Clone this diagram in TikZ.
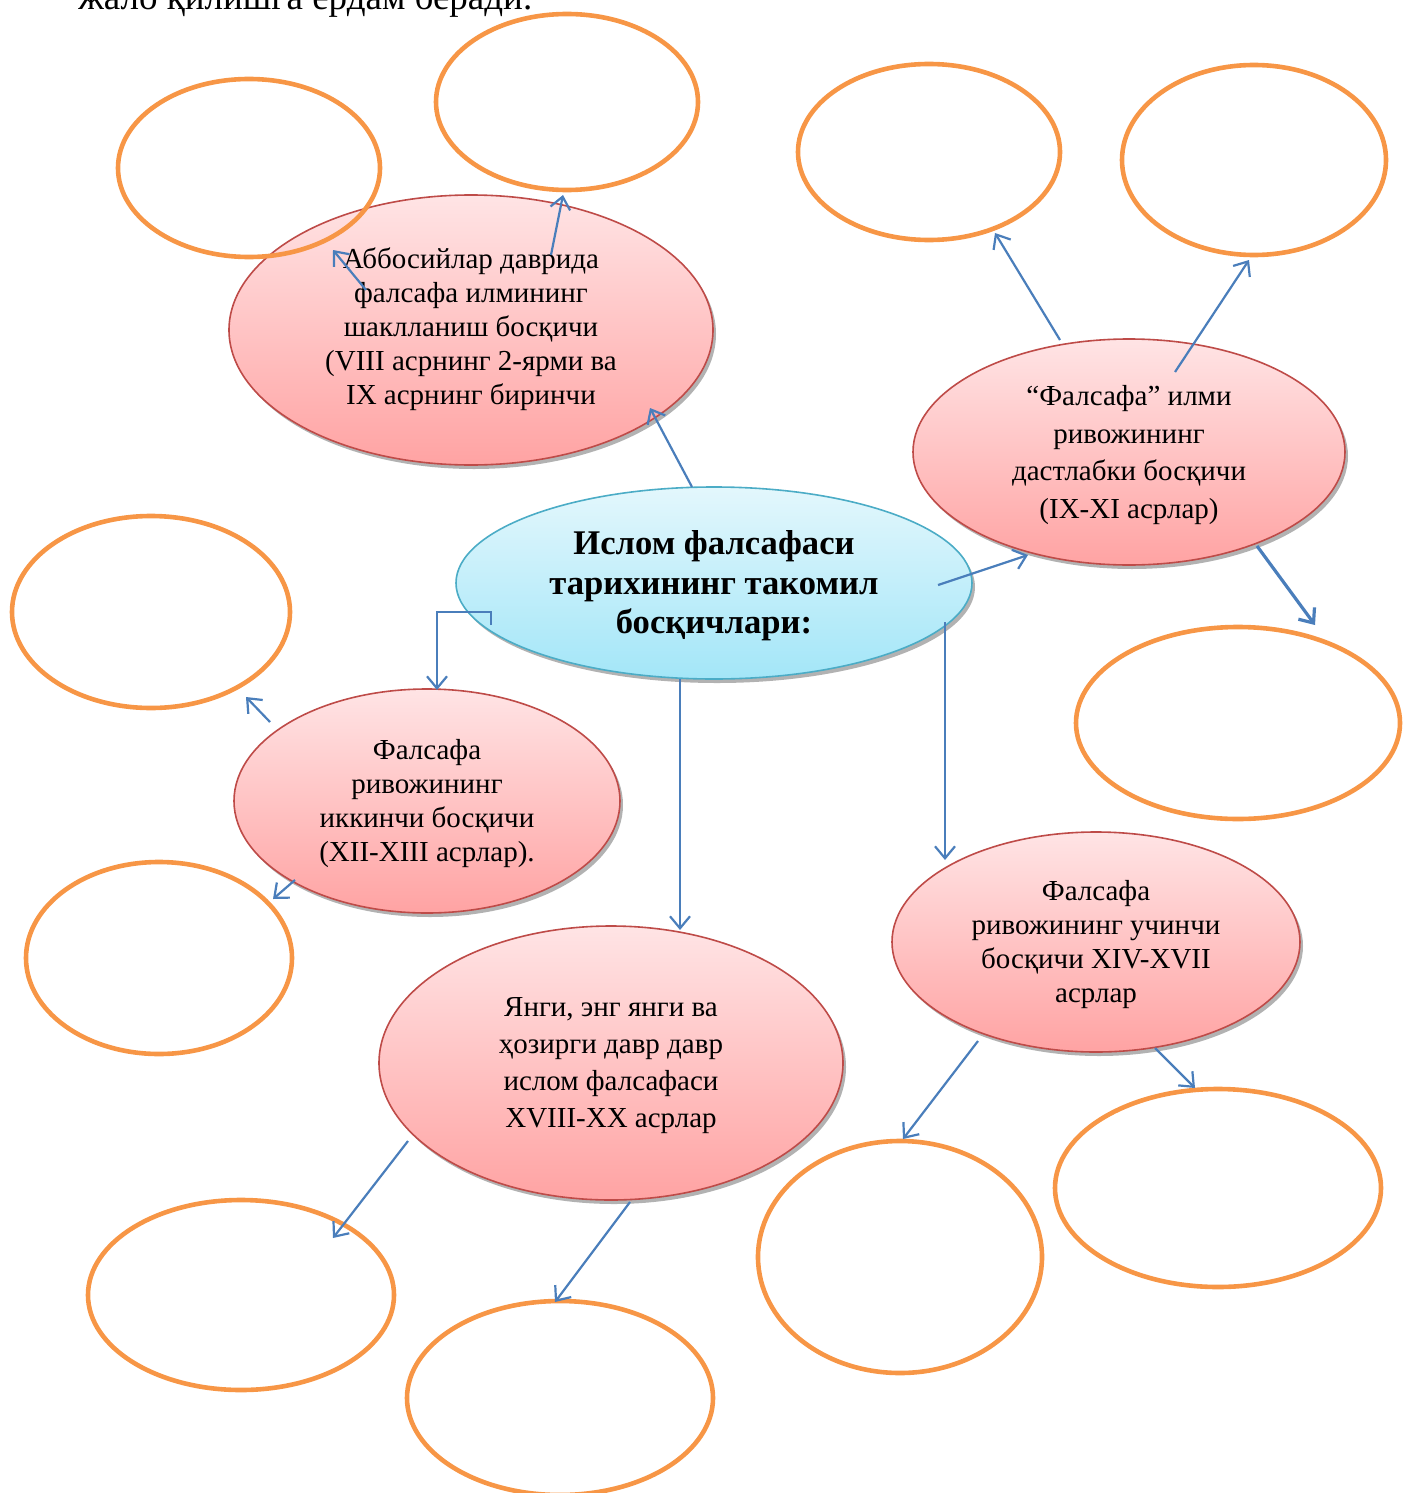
\documentclass[tikz,border=0pt]{standalone}
\usepackage{fontspec}
\setmainfont{Liberation Serif}
\usetikzlibrary{arrows.meta,shapes.geometric,shadows,calc}
\definecolor{orng}{HTML}{F79646}
\definecolor{arw}{HTML}{4A7EBB}
\definecolor{redb}{HTML}{BE4B48}
\definecolor{pinkt}{HTML}{FFE4E5}
\definecolor{pinkb}{HTML}{FFA3A3}
\definecolor{cyant}{HTML}{E3F7FC}
\definecolor{cyanb}{HTML}{A3E6F8}
\definecolor{blueb}{HTML}{4BACC6}
\begin{document}
\begin{tikzpicture}[x=0.5pt,y=-0.5pt,
  emptyell/.style={ellipse, draw=orng, line width=2.3pt, inner sep=0pt},
  stageshape/.style={ellipse, draw=redb, line width=0.8pt, top color=pinkt, bottom color=pinkb,
    drop shadow={shadow xshift=1.5pt, shadow yshift=-2pt, fill=black!55, opacity=0.55}, inner sep=0pt},
  centershape/.style={ellipse, draw=blueb, line width=0.8pt, top color=cyant, bottom color=cyanb,
    drop shadow={shadow xshift=1.5pt, shadow yshift=-2pt, fill=black!55, opacity=0.55}, inner sep=0pt},
  stagetext/.style={align=center, inner sep=0pt, font=\fontsize{14.5}{17}\selectfont},
  arr/.style={draw=arw, line width=1.1pt, -{Straight Barb[length=6pt,width=10pt]}},
]
\useasboundingbox (0,0) rectangle (1403,1493);

% top (cut) text line
\node[anchor=base west, inner sep=0pt, font=\fontsize{18.5}{22}\selectfont] (toptext) at (78,10) {жало қилишга ёрдам беради.};

% stage ellipses
\node[stageshape, minimum width=242pt, minimum height=135pt] (R1) at (471,330) {};
\node[stageshape, minimum width=216pt, minimum height=113pt] (R2) at (1129,452) {};
\node[stageshape, minimum width=193pt, minimum height=112pt] (R3) at (427,801) {};
\node[stageshape, minimum width=204pt, minimum height=110pt] (R4) at (1096,942) {};
\node[stageshape, minimum width=232pt, minimum height=137pt] (R5) at (611,1063) {};
\node[centershape, minimum width=258pt, minimum height=96pt] (C) at (714,583) {};

% texts
\node[stagetext] (R1t) at (471,329) {Аббосийлар даврида\\фалсафа илмининг\\шаклланиш босқичи\\(VIII асрнинг 2-ярми ва\\IX асрнинг биринчи};
\node[stagetext, font=\fontsize{14.5}{18.7}\selectfont] (R2t) at (1129,455) {“Фалсафа” илми\\ривожининг\\дастлабки босқичи\\(IX-XI асрлар)};
\node[stagetext] (R3t) at (427,804) {Фалсафа\\ривожининг\\иккинчи босқичи\\(XII-XIII асрлар).};
\node[stagetext] (R4t) at (1096,945) {Фалсафа\\ривожининг учинчи\\босқичи XIV-XVII\\асрлар};
\node[stagetext, font=\fontsize{14.5}{18.5}\selectfont] (R5t) at (611,1066) {Янги, энг янги ва\\ҳозирги давр давр\\ислом фалсафаси\\XVIII-XX асрлар};
\node[stagetext, font=\bfseries\fontsize{17.3}{19.8}\selectfont] (Ct) at (714,586) {Ислом фалсафаси\\тарихининг такомил\\босқичлари:};

% empty orange ellipses
\node[emptyell, minimum width=131pt, minimum height=89pt] (O1) at (249,168) {};
\node[emptyell, minimum width=131pt, minimum height=88pt] (O2) at (567,102) {};
\node[emptyell, minimum width=131pt, minimum height=88pt] (O3) at (929,152) {};
\node[emptyell, minimum width=132pt, minimum height=95pt] (O4) at (1254,160) {};
\node[emptyell, minimum width=139pt, minimum height=96pt] (O5) at (151,612) {};
\node[emptyell, minimum width=162pt, minimum height=96pt] (O6) at (1238,723) {};
\node[emptyell, minimum width=133pt, minimum height=96pt] (O7) at (159,958) {};
\node[emptyell, minimum width=163pt, minimum height=99pt] (O8) at (1218,1188) {};
\node[emptyell, minimum width=153pt, minimum height=95pt] (O9) at (241,1295) {};
\node[emptyell, minimum width=142pt, minimum height=116pt] (O10) at (900,1257) {};
\node[emptyell, minimum width=153pt, minimum height=97pt] (O11) at (560,1398) {};

% connectors
\draw[arr] ($(R1.center)+(-105,-40)$) -- ($(O1.center)+(84,82)$);
\draw[arr] ($(R1.center)+(80,-75)$) -- ($(O2.center)+(-4,93)$);
\draw[arr] ($(C.center)+(-22,-96)$) -- ($(R1.center)+(179,78)$);
\draw[arr] ($(R2.center)+(-69,-112)$) -- ($(O3.center)+(66,81)$);
\draw[arr] ($(R2.center)+(46,-80)$) -- ($(O4.center)+(-5,100)$);
\draw[arr] ($(C.center)+(224,2)$) -- ($(R2.center)+(-101,103)$);
\draw[arr, line width=1.6pt] ($(R2.center)+(128,94)$) -- ($(O6.center)+(77,-98)$);
\draw[arr] ($(C.center)+(-223,42)$) -- ++(0,-13) -| ($(R3.center)+(10,-111)$);
\draw[arr] ($(R3.center)+(-157,-79)$) -- ($(O5.center)+(95,85)$);
\draw[arr] ($(R3.center)+(-132,79)$) -- ($(O7.center)+(114,-59)$);
\draw[arr] ($(C.center)+(-34,96)$) -- ($(R5.center)+(69,-133)$);
\draw[arr] ($(C.center)+(231,39)$) -- ($(R4.center)+(-151,-82)$);
\draw[arr] ($(R5.center)+(-203,78)$) -- ($(O9.center)+(92,-57)$);
\draw[arr] ($(R5.center)+(19,139)$) -- ($(O11.center)+(-5,-96)$);
\draw[arr] ($(R4.center)+(-118,99)$) -- ($(O10.center)+(3,-118)$);
\draw[arr] ($(R4.center)+(59,106)$) -- ($(O8.center)+(-23,-100)$);
\end{tikzpicture}
\end{document}
